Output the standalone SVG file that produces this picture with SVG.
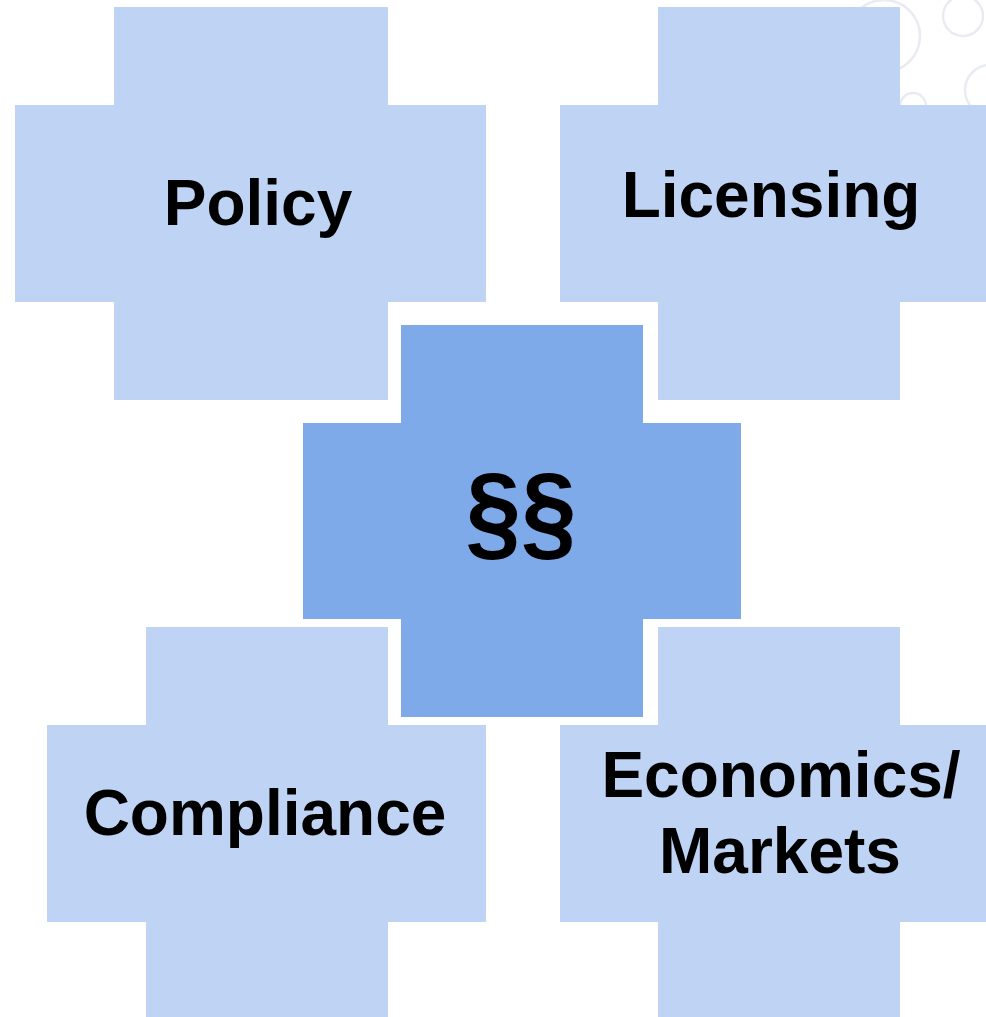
<svg xmlns="http://www.w3.org/2000/svg" width="986" height="1017" viewBox="0 0 986 1017">
<style>
.bg{fill:none;stroke:#E8EBF3;stroke-width:2.5}
.light{fill:#BFD4F5}
.dark{fill:#7EAAEA}
.lbl{font-family:"Liberation Sans",Arial,sans-serif;font-weight:bold;font-size:64px;fill:#000;text-anchor:middle}
</style>
<rect width="986" height="1017" fill="#FFFFFF"/>
<g id="background">
<circle class="bg" cx="884" cy="36" r="36"/>
<circle class="bg" cx="963" cy="16" r="20"/>
<circle class="bg" cx="990" cy="90" r="25"/>
<circle class="bg" cx="913" cy="106" r="13"/>
</g>
<g id="policy">
<path class="light" d="M114 7H388V105H486V302H388V400H114V302H15V105H114Z"/>
<text class="lbl" x="258" y="225">Policy</text>
</g>
<g id="licensing">
<path class="light" d="M658 7H900V105H986V302H900V400H658V302H560V105H658Z"/>
<text class="lbl" x="771" y="217">Licensing</text>
</g>
<g id="compliance">
<path class="light" d="M146 627H388V725H486V922H388V1017H146V922H47V725H146Z"/>
<text class="lbl" x="265" y="835">Compliance</text>
</g>
<g id="economics">
<path class="light" d="M658 627H900V725H986V922H900V1017H658V922H560V725H658Z"/>
<text class="lbl" x="781" y="797">Economics/</text>
<text class="lbl" x="780" y="873">Markets</text>
</g>
<g id="center">
<path class="dark" d="M401 325H643V423H741V619H643V717H401V619H303V423H401Z"/>
<text class="lbl" x="521" y="542" style="font-size:100px" transform="translate(0,466) scale(1,1.08) translate(0,-466)">§§</text>
</g>
<g id="connectors"/>
</svg>
